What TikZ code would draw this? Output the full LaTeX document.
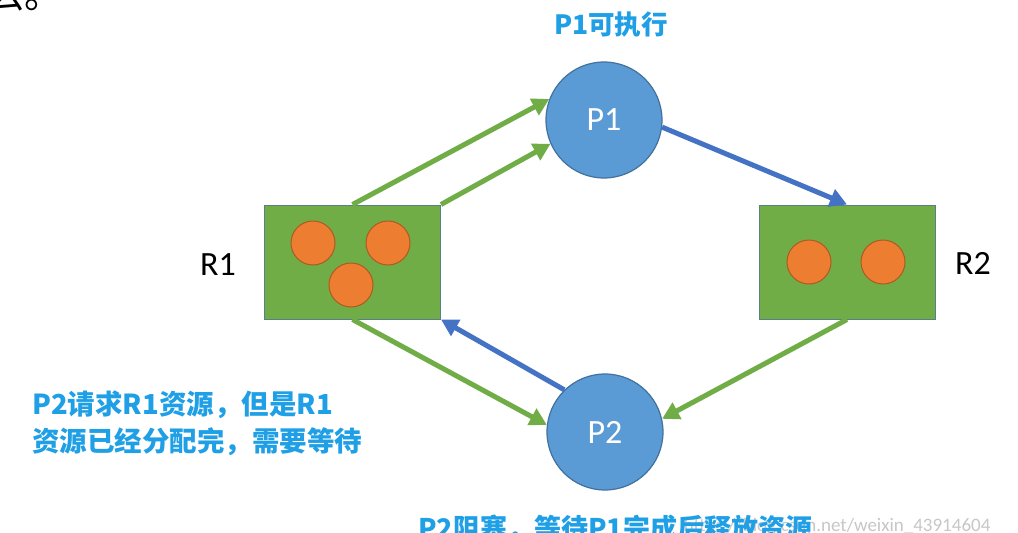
\documentclass[tikz,border=0pt]{standalone}
\usepackage{fontspec}
\setmainfont{Carlito}
\newfontfamily\cjk{Noto Sans CJK SC}
\usetikzlibrary{arrows.meta}
\definecolor{pgreen}{HTML}{70AD47}
\definecolor{pgreenb}{HTML}{5A7F8A}
\definecolor{pblue}{HTML}{5B9BD5}
\definecolor{pblueb}{HTML}{41719C}
\definecolor{porange}{HTML}{ED7D31}
\definecolor{porangeb}{HTML}{AE5A21}
\definecolor{parrow}{HTML}{4472C4}
\definecolor{ptext}{HTML}{1E9FE6}
\begin{document}
\begin{tikzpicture}[x=1pt,y=-1pt,
  proc/.style={circle, draw=pblueb, line width=1.2pt, fill=pblue, minimum size=116pt, inner sep=0pt, text=white, font=\fontsize{34}{34}\selectfont},
  res/.style={rectangle, draw=pgreenb, line width=1pt, fill=pgreen, minimum width=176pt, minimum height=114pt, inner sep=0pt},
  token/.style={circle, draw=porangeb, line width=1pt, fill=porange, minimum size=44pt, inner sep=0pt},
  lbl/.style={font=\fontsize{34}{34}\selectfont, text=black},
  note/.style={font=\cjk\bfseries\fontsize{26}{26}\selectfont, text=ptext},
  garrow/.style={draw=pgreen, line width=5pt, -{Triangle[length=17pt,width=18pt]}},
  barrow/.style={draw=parrow, line width=5pt, -{Triangle[length=17pt,width=18pt]}}]
\useasboundingbox (0,0) rectangle (1018,533);
\clip (0,0) rectangle (1018,533);
\fill[white] (0,0) rectangle (1018,533);

% fragment at top left
\node[anchor=base west, font=\cjk\fontsize{38}{38}\selectfont, inner sep=0pt] (frag) at (-14,8) {么。};

\node[proc] (P1) at (604,120) {P1};
\node[proc] (P2) at (605,432) {P2};
\node[res] (R1) at (352.5,262) {};
\node[res] (R2) at (847,262) {};
\node[token] (t1) at (313,243) {};
\node[token] (t2) at (388,243) {};
\node[token] (t3) at (351,285) {};
\node[token] (t4) at (809,262) {};
\node[token] (t5) at (883,262) {};
\node[lbl] (l1) at (218,265) {R1};
\node[lbl] (l2) at (973,263) {R2};

\draw[garrow] (R1.north) -- (P1.159);
\draw[garrow] (R1.north east) -- (P1.204);
\draw[barrow] (P1.353) -- (R2.north);
\draw[garrow] (R2.south) -- (P2.13);
\draw[garrow] (R1.south) -- (P2.173);
\draw[barrow] (P2.134) -- (R1.south east);

\node[note, font=\cjk\bfseries\fontsize{26.5}{26.5}\selectfont] (n1) at (611,25) {P1可执行};
\node[note, anchor=west, align=left, inner sep=0pt, font=\cjk\bfseries\fontsize{27.5}{37}\selectfont] (n2) at (32,423) {P2请求R1资源，但是R1\\资源已经分配完，需要等待};
\node[anchor=east, text=black!22, font=\fontsize{19}{19}\selectfont] (wm) at (994,527) {https://blog.csdn.net/weixin\_43914604};
\node[note, anchor=west, inner sep=0pt, font=\cjk\bfseries\fontsize{27}{27}\selectfont] (n3) at (418,529) {P2阻塞，等待P1完成后释放资源};
\end{tikzpicture}
\end{document}
